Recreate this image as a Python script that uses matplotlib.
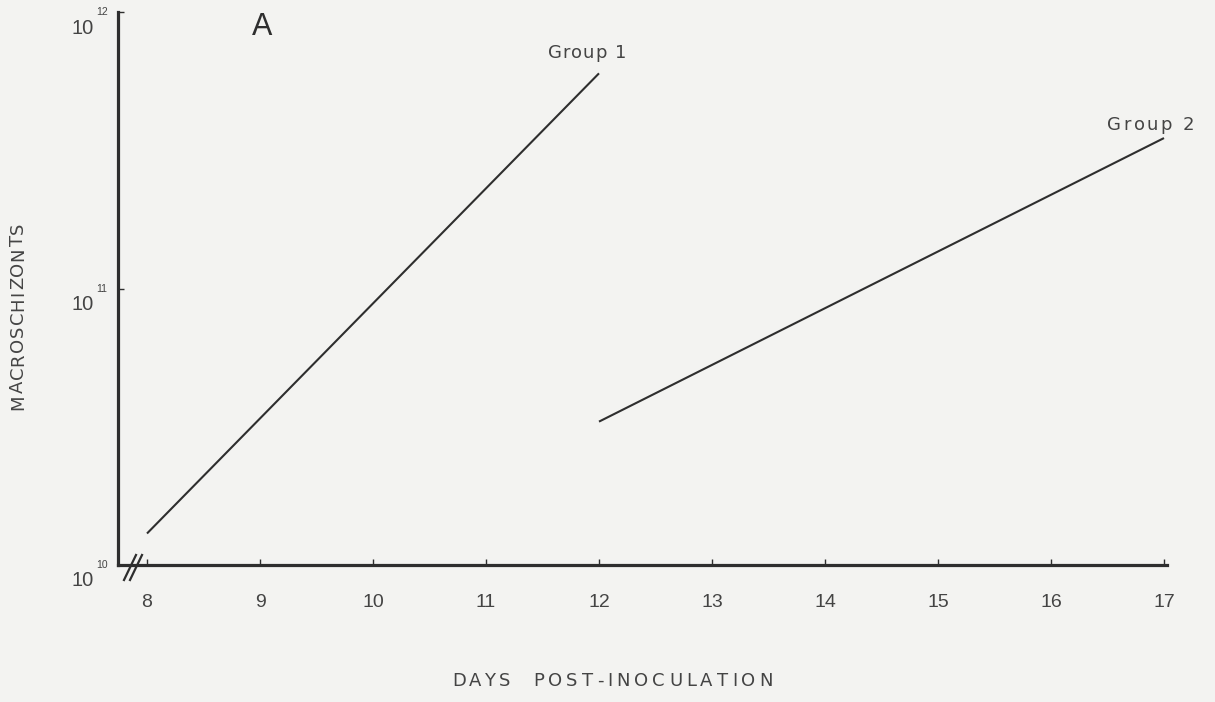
import matplotlib
matplotlib.use("Agg")
import matplotlib.pyplot as plt
from matplotlib.lines import Line2D
from matplotlib.font_manager import FontProperties
from matplotlib.transforms import blended_transform_factory, offset_copy

plt.rcParams['font.family'] = ['Liberation Sans', 'DejaVu Sans']

# Fitted growth lines (log scale), start and end points
group1_days = [8, 12]
group1_counts = [1.3e10, 6.0e11]
group2_days = [12, 17]
group2_counts = [3.3e10, 3.5e11]

x_ticks = [8, 9, 10, 11, 12, 13, 14, 15, 16, 17]
y_exponents = [10, 11, 12]
series_labels = ["Group 1", "Group 2"]

paper = "#f3f3f1"
ink = "#2e2e2e"
text_ink = "#444444"

fig = plt.figure(figsize=(12.15, 7.02), dpi=100, facecolor=paper)
W, H = 1215, 702
renderer = fig.canvas.get_renderer()


def tracked_text(cx, cy, s, size, span, vertical=False, color=text_ink):
    """Draw a string centred at pixel (cx, cy) with its letters spread to `span` px."""
    fp = FontProperties(family=['DejaVu Sans'], size=size)
    widths = [renderer.get_text_width_height_descent(ch if ch != ' ' else 'n', fp, ismath=False)[0]
              * (0.55 if ch == ' ' else 1.0) for ch in s]
    gap = (span - sum(widths)) / max(len(s) - 1, 1)
    pos = -span / 2
    for ch, w in zip(s, widths):
        mid = pos + w / 2
        if ch != ' ':
            if vertical:
                fig.text(cx / W, 1 - (cy - mid) / H, ch, rotation=90, ha='center',
                         va='center', fontproperties=fp, color=color)
            else:
                fig.text((cx + mid) / W, 1 - cy / H, ch, ha='center', va='center',
                         fontproperties=fp, color=color)
        pos += w + gap


ax = fig.add_axes([118 / W, (H - 565) / H, (1167 - 118) / W, (565 - 12) / H])
ax.set_facecolor(paper)
ax.set_yscale('log')
ax.set_xlim(8 - 29 / 113, 17 + 3 / 113)
ax.set_ylim(1e10, 1e12)

for s in ('top', 'right'):
    ax.spines[s].set_visible(False)
for s in ('left', 'bottom'):
    ax.spines[s].set_linewidth(2.3)
    ax.spines[s].set_color(ink)

ax.plot(group1_days, group1_counts, color=ink, lw=1.5, solid_capstyle='butt')
ax.plot(group2_days, group2_counts, color=ink, lw=1.5, solid_capstyle='butt')

ax.set_xticks(x_ticks)
ax.set_xticklabels([str(t) for t in x_ticks], fontsize=14, color=text_ink)
ax.tick_params(axis='x', direction='in', length=4, width=1, color=ink, pad=21)
ax.set_yticks([10 ** e for e in y_exponents])
ax.set_yticklabels([])
ax.yaxis.set_minor_locator(matplotlib.ticker.NullLocator())
ax.tick_params(axis='y', direction='in', length=4, width=1, color=ink)

# Powers of ten written as base plus small raised exponent
ytr = blended_transform_factory(fig.transFigure, ax.transData)
base_tr = offset_copy(ytr, fig=fig, y=-16, units='dots')
for e in y_exponents:
    ax.text(94 / W, 10 ** e, "10", transform=base_tr, ha='right', va='center',
            fontsize=14.5, color=text_ink)
    ax.text(96 / W, 10 ** e, str(e), transform=ytr, ha='left', va='center',
            fontsize=7.5, color=text_ink)

# Axis break marks at the origin
for dx in (0, 6):
    fig.add_artist(Line2D([(124 + dx) / W, (136 + dx) / W],
                          [(H - 580) / H, (H - 555) / H],
                          transform=fig.transFigure, color=ink, lw=1.6))

tracked_text(587, 53, series_labels[0], 13, 78)
tracked_text(1151, 125, series_labels[1], 13, 87)

fig.text(262 / W, 1 - 27 / H, "A", ha='center', va='center', fontsize=22, color=ink)
tracked_text(18, 316, "MACROSCHIZONTS", 13, 187, vertical=True)
tracked_text(481, 681, "DAYS", 13, 58)
tracked_text(653, 681, "POST-INOCULATION", 13, 240)

fig.savefig("out.png", dpi=100, facecolor=paper)
